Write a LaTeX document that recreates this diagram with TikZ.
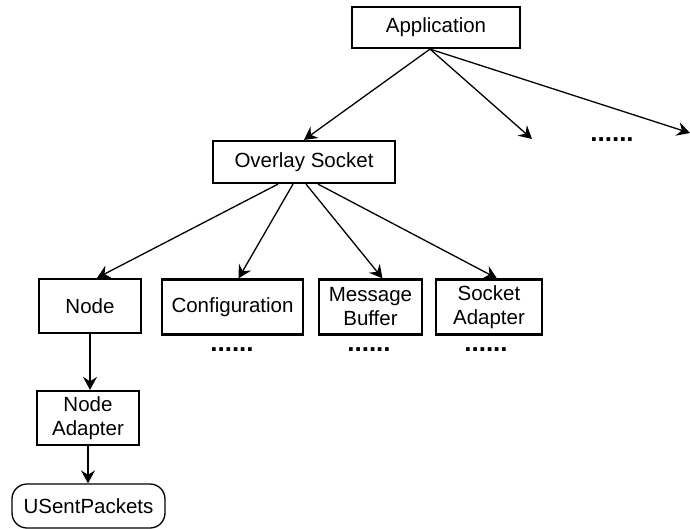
\documentclass[tikz,border=0pt]{standalone}
\usepackage{fontspec}
\setmainfont{Liberation Sans}
\usetikzlibrary{arrows.meta}
\begin{document}
\begin{tikzpicture}[x=1pt,y=-1pt,
  lbl/.style={font=\fontsize{20.5}{24}\selectfont},
  box/.style={lbl,draw,line width=2.2pt,inner sep=0pt,align=center},
  term/.style={lbl,draw,line width=1.3pt,rounded corners=15pt,inner sep=0pt},
  link/.style={line width=1.3pt,-{Stealth[length=13pt,width=14pt,inset=4.5pt]}},
  more/.style={font=\fontsize{26}{26}\bfseries\selectfont,inner sep=0pt}]
\useasboundingbox (0,0) rectangle (690,529);

% component boxes
\node[box,minimum width=168pt,minimum height=41pt] (app) at (436,27.5) {Application};
\node[box,minimum width=182pt,minimum height=42pt] (ovl) at (304,162) {Overlay Socket};
\node[box,minimum width=102pt,minimum height=54pt] (nd) at (90,306) {Node};
\node[box,minimum width=141pt,minimum height=55pt] (cfg) at (232.5,307) {Configuration};
\node[box,minimum width=103pt,minimum height=55pt] (mb) at (370.5,307) {Message\\Buffer};
\node[box,minimum width=106pt,minimum height=55pt] (sa) at (489,307) {Socket\\Adapter};
\node[box,minimum width=102pt,minimum height=54pt] (na) at (88,418) {Node\\Adapter};
\node[term,minimum width=153pt,minimum height=44pt] (usp) at (88.5,506) {USentPackets};

% elided siblings
\node[more] (dotsA) at (612,140) {......};
\node[more] (dotsC) at (232,350) {......};
\node[more] (dotsM) at (369,350) {......};
\node[more] (dotsS) at (486,350) {......};

% open ends of the application fan-out
\coordinate (appmid) at (532,139);
\coordinate (appright) at (690,133);

% connectors
\draw[link] ([xshift=-6pt]app.south) -- (ovl.north);
\draw[link] ([xshift=-6pt]app.south) -- (appmid);
\draw[link] ([xshift=-6pt]app.south) -- (appright);

\draw[link] ([xshift=-26pt]ovl.south) -- ([xshift=7pt]nd.north);
\draw[link] ([xshift=-11pt]ovl.south) -- ([xshift=6pt]cfg.north);
\draw[link] ([xshift=2pt]ovl.south) -- ([xshift=12pt]mb.north);
\draw[link] ([xshift=14pt]ovl.south) -- ([xshift=8pt]sa.north);

\draw[link] (nd.south) -- (nd.south |- na.north);
\draw[link] (na.south) -- (na.south |- usp.north);
\end{tikzpicture}
\end{document}
